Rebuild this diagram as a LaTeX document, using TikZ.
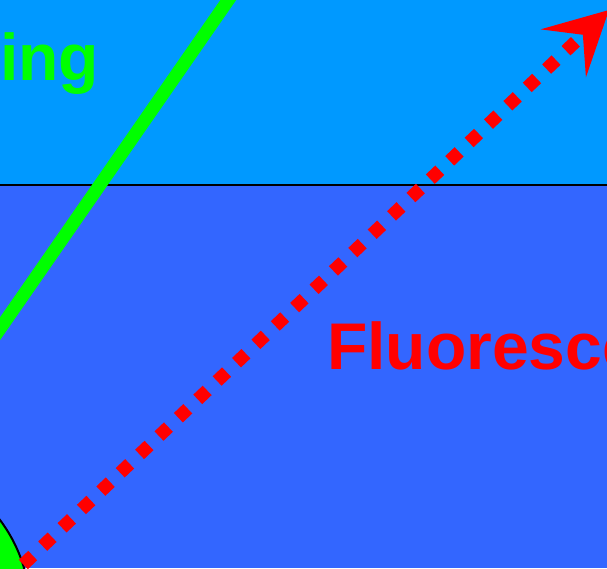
\documentclass[tikz,border=0pt]{standalone}
\usepackage{fontspec}
\setmainfont{Liberation Sans}
\usetikzlibrary{arrows.meta,positioning}
\definecolor{airblue}{HTML}{0099FF}
\definecolor{waterblue}{HTML}{3366FF}

\begin{document}
\begin{tikzpicture}[x=1pt, y=-1pt,
  lbl/.style={font=\fontsize{66}{66}\selectfont\bfseries, inner sep=0pt, anchor=base west},
  beam/.style={line width=13pt}]
\useasboundingbox (0,0) rectangle (607,568);
\clip (0,0) rectangle (607,568);
% media
\fill[airblue] (0,0) rectangle (607,185);
\fill[waterblue] (0,185) rectangle (607,568);
\draw[line width=2pt] (0,185) -- (607,185);
% particle
\node[circle, draw, fill=green, line width=2pt, minimum size=300pt] (particle) at (-120,610) {};
% incoming light
\coordinate (inA) at (263,-50);
\coordinate (inB) at (-49.5,400);
\draw[beam, green] (inA) -- (inB);
% emitted light
\coordinate (emA) at (23.3,564.5);
\coordinate (emB) at (609,10);
\draw[beam, red, dash pattern=on 13pt off 13.69pt,
  -{Stealth[length=63pt, width=66pt, inset=27pt, line width=0pt]}] (emA) -- (emB);
% labels
\node[lbl, green] (scat) at (0,80) {ing};
\node[lbl, red] (fluo) at (327,369) {Fluoresce};
\end{tikzpicture}
\end{document}
